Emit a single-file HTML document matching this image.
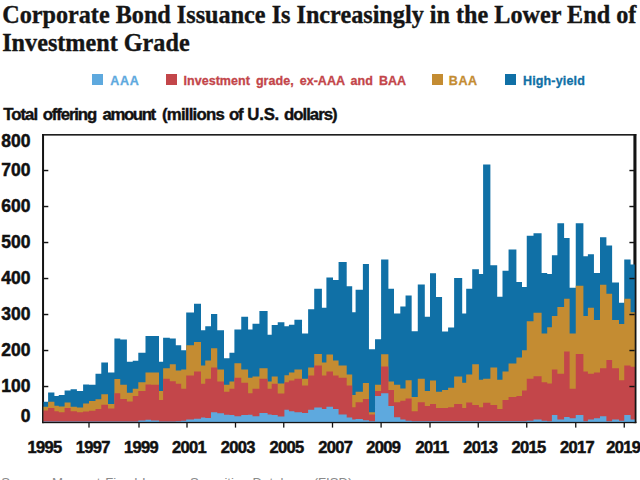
<!DOCTYPE html>
<html><head><meta charset="utf-8"><title>Corporate Bond Issuance</title>
<style>
html,body{margin:0;padding:0;background:#fff;}
body{width:640px;height:480px;overflow:hidden;position:relative;font-family:"Liberation Sans",sans-serif;color:#111;}
.abs{position:absolute;white-space:nowrap;}
.title{-webkit-text-stroke:0.35px #151515;font-family:"Liberation Serif",serif;font-weight:bold;color:#151515;font-size:24.2px;line-height:27px;left:2.2px;top:0.7px;transform-origin:0 0;}
.sub{-webkit-text-stroke:0.4px #111;font-weight:bold;font-size:16.8px;line-height:20px;left:3.4px;top:105.1px;transform-origin:0 0;}
.yl{-webkit-text-stroke:0.5px #111;font-weight:bold;font-size:17.5px;line-height:17.5px;left:0;width:30.4px;text-align:right;letter-spacing:0px;}
.xl{-webkit-text-stroke:0.5px #111;font-weight:bold;font-size:16.5px;line-height:16.5px;letter-spacing:-0.65px;transform:translateX(-50%);}
.lg{-webkit-text-stroke:0.3px currentColor;font-weight:bold;font-size:12.5px;line-height:14px;letter-spacing:0.04px;word-spacing:2.5px;}
.sq{position:absolute;width:11px;height:10.7px;top:74.3px;}
.foot{font-size:13.1px;color:#8a8a8a;left:1.2px;top:475px;line-height:15px;}
</style></head><body>
<div class="abs title" id="t1">Corporate Bond Issuance Is Increasingly in the Lower End of</div>
<div class="abs title" id="t2" style="top:28.5px">Investment Grade</div>
<div class="sq" style="left:92.3px;background:#5ea9de"></div>
<div class="abs lg" id="lg_aaa" style="left:110.2px;top:73.6px;letter-spacing:0.75px;color:#5ea9de">AAA</div>
<div class="sq" style="left:166px;background:#c3464a"></div>
<div class="abs lg" id="lg_ig" style="left:183.5px;top:73.6px;letter-spacing:0.04px;color:#c3464a">Investment grade, ex-AAA and BAA</div>
<div class="sq" style="left:432px;background:#c48c32"></div>
<div class="abs lg" id="lg_baa" style="left:448.8px;top:73.6px;letter-spacing:0.6px;color:#c48c32">BAA</div>
<div class="sq" style="left:505.4px;background:#1070a6"></div>
<div class="abs lg" id="lg_hy" style="left:523px;top:73.6px;letter-spacing:0.15px;color:#1070a6">High-yield</div>
<div class="abs sub" style="left:3.30px;letter-spacing:-1.019px">Total</div>
<div class="abs sub" style="left:42.70px;letter-spacing:-1.137px">offering</div>
<div class="abs sub" style="left:102.60px;letter-spacing:-1.421px">amount</div>
<div class="abs sub" style="left:162.00px;letter-spacing:-0.779px">(millions</div>
<div class="abs sub" style="left:228.95px;letter-spacing:-1.072px">of</div>
<div class="abs sub" style="left:247.30px;letter-spacing:-0.221px">U.S.</div>
<div class="abs sub" style="left:283.90px;letter-spacing:-0.971px">dollars)</div>
<svg width="640" height="480" viewBox="0 0 640 480" style="position:absolute;left:0;top:0">
<g fill="#141414">
<rect x="42.2" y="134.05" width="1.85" height="289.05"/>
<rect x="42.2" y="134.05" width="594.05" height="1.55"/>
<rect x="633.4" y="134.05" width="2.85" height="289.05"/>
<rect x="42.2" y="421.7" width="594.05" height="1.4"/>
</g>
<g>
<path d="M43.20,401.78 L48.10,401.78 L48.10,392.42 L54.40,392.42 L54.40,396.02 L58.75,396.02 L58.75,394.94 L64.60,394.94 L64.60,390.62 L70.60,390.62 L70.60,389.18 L76.90,389.18 L76.90,390.98 L83.10,390.98 L83.10,384.50 L89.00,384.50 L89.00,384.86 L95.50,384.86 L95.50,373.70 L101.30,373.70 L101.30,362.54 L108.00,362.54 L108.00,372.62 L114.40,372.62 L114.40,338.42 L120.25,338.42 L120.25,339.50 L126.90,339.50 L126.90,361.82 L132.75,361.82 L132.75,360.74 L138.30,360.74 L138.30,352.82 L145.50,352.82 L145.50,335.90 L151.00,335.90 L151.00,335.90 L159.00,335.90 L159.00,361.82 L163.10,361.82 L163.10,337.70 L169.80,337.70 L169.80,338.42 L175.80,338.42 L175.80,345.26 L181.20,345.26 L181.20,350.30 L186.20,350.30 L186.20,312.50 L194.00,312.50 L194.00,303.86 L201.00,303.86 L201.00,330.14 L205.25,330.14 L205.25,326.18 L211.00,326.18 L211.00,313.94 L217.25,313.94 L217.25,330.14 L224.00,330.14 L224.00,358.22 L229.44,358.22 L229.44,352.82 L234.40,352.82 L234.40,329.42 L241.25,329.42 L241.25,316.82 L248.10,316.82 L248.10,329.42 L252.50,329.42 L252.50,323.66 L259.40,323.66 L259.40,311.06 L267.60,311.06 L267.60,334.82 L271.69,334.82 L271.69,325.10 L277.72,325.10 L277.72,322.22 L284.40,322.22 L284.40,326.18 L288.90,326.18 L288.90,324.74 L294.40,324.74 L294.40,319.70 L302.03,319.70 L302.03,333.38 L308.12,333.38 L308.12,309.26 L314.22,309.26 L314.22,288.74 L321.90,288.74 L321.90,307.82 L326.41,307.82 L326.41,277.58 L333.00,277.58 L333.00,280.10 L338.57,280.10 L338.57,262.10 L346.70,262.10 L346.70,286.22 L352.20,286.22 L352.20,312.14 L355.60,312.14 L355.60,289.82 L362.88,289.82 L362.88,263.90 L368.95,263.90 L368.95,349.22 L375.03,349.22 L375.03,339.14 L381.10,339.14 L381.10,259.58 L388.40,259.58 L388.40,288.74 L394.00,288.74 L394.00,313.58 L400.30,313.58 L400.30,306.38 L405.55,306.38 L405.55,295.58 L411.66,295.58 L411.66,331.22 L417.77,331.22 L417.77,284.42 L424.80,284.42 L424.80,316.82 L430.00,316.82 L430.00,273.26 L436.03,273.26 L436.03,297.02 L442.06,297.02 L442.06,331.58 L448.09,331.58 L448.09,327.62 L454.12,327.62 L454.12,277.94 L462.20,277.94 L462.20,313.58 L466.19,313.58 L466.19,288.74 L472.22,288.74 L472.22,269.30 L478.90,269.30 L478.90,273.98 L483.10,273.98 L483.10,164.54 L490.38,164.54 L490.38,265.34 L497.20,265.34 L497.20,296.66 L502.50,296.66 L502.50,270.74 L508.56,270.74 L508.56,249.50 L516.40,249.50 L516.40,281.90 L522.00,281.90 L522.00,286.94 L526.75,286.94 L526.75,235.82 L533.50,235.82 L533.50,233.30 L541.60,233.30 L541.60,272.90 L547.20,272.90 L547.20,273.98 L551.90,273.98 L551.90,255.26 L557.38,255.26 L557.38,223.22 L564.10,223.22 L564.10,237.98 L569.62,237.98 L569.62,287.66 L575.75,287.66 L575.75,223.22 L583.40,223.22 L583.40,256.34 L587.88,256.34 L587.88,254.18 L593.94,254.18 L593.94,272.90 L600.00,272.90 L600.00,237.26 L606.40,237.26 L606.40,245.54 L612.12,245.54 L612.12,282.62 L619.00,282.62 L619.00,302.78 L624.25,302.78 L624.25,259.58 L630.60,259.58 L630.60,264.62 L635.00,264.62 L635.00,422.30 L630.60,422.30 L630.60,422.30 L624.25,422.30 L624.25,422.30 L619.00,422.30 L619.00,422.30 L612.12,422.30 L612.12,422.30 L606.40,422.30 L606.40,422.30 L600.00,422.30 L600.00,422.30 L593.94,422.30 L593.94,422.30 L587.88,422.30 L587.88,422.30 L583.40,422.30 L583.40,422.30 L575.75,422.30 L575.75,422.30 L569.62,422.30 L569.62,422.30 L564.10,422.30 L564.10,422.30 L557.38,422.30 L557.38,422.30 L551.90,422.30 L551.90,422.30 L547.20,422.30 L547.20,422.30 L541.60,422.30 L541.60,422.30 L533.50,422.30 L533.50,422.30 L526.75,422.30 L526.75,422.30 L522.00,422.30 L522.00,422.30 L516.40,422.30 L516.40,422.30 L508.56,422.30 L508.56,422.30 L502.50,422.30 L502.50,422.30 L497.20,422.30 L497.20,422.30 L490.38,422.30 L490.38,422.30 L483.10,422.30 L483.10,422.30 L478.90,422.30 L478.90,422.30 L472.22,422.30 L472.22,422.30 L466.19,422.30 L466.19,422.30 L462.20,422.30 L462.20,422.30 L454.12,422.30 L454.12,422.30 L448.09,422.30 L448.09,422.30 L442.06,422.30 L442.06,422.30 L436.03,422.30 L436.03,422.30 L430.00,422.30 L430.00,422.30 L424.80,422.30 L424.80,422.30 L417.77,422.30 L417.77,422.30 L411.66,422.30 L411.66,422.30 L405.55,422.30 L405.55,422.30 L400.30,422.30 L400.30,422.30 L394.00,422.30 L394.00,422.30 L388.40,422.30 L388.40,422.30 L381.10,422.30 L381.10,422.30 L375.03,422.30 L375.03,422.30 L368.95,422.30 L368.95,422.30 L362.88,422.30 L362.88,422.30 L355.60,422.30 L355.60,422.30 L352.20,422.30 L352.20,422.30 L346.70,422.30 L346.70,422.30 L338.57,422.30 L338.57,422.30 L333.00,422.30 L333.00,422.30 L326.41,422.30 L326.41,422.30 L321.90,422.30 L321.90,422.30 L314.22,422.30 L314.22,422.30 L308.12,422.30 L308.12,422.30 L302.03,422.30 L302.03,422.30 L294.40,422.30 L294.40,422.30 L288.90,422.30 L288.90,422.30 L284.40,422.30 L284.40,422.30 L277.72,422.30 L277.72,422.30 L271.69,422.30 L271.69,422.30 L267.60,422.30 L267.60,422.30 L259.40,422.30 L259.40,422.30 L252.50,422.30 L252.50,422.30 L248.10,422.30 L248.10,422.30 L241.25,422.30 L241.25,422.30 L234.40,422.30 L234.40,422.30 L229.44,422.30 L229.44,422.30 L224.00,422.30 L224.00,422.30 L217.25,422.30 L217.25,422.30 L211.00,422.30 L211.00,422.30 L205.25,422.30 L205.25,422.30 L201.00,422.30 L201.00,422.30 L194.00,422.30 L194.00,422.30 L186.20,422.30 L186.20,422.30 L181.20,422.30 L181.20,422.30 L175.80,422.30 L175.80,422.30 L169.80,422.30 L169.80,422.30 L163.10,422.30 L163.10,422.30 L159.00,422.30 L159.00,422.30 L151.00,422.30 L151.00,422.30 L145.50,422.30 L145.50,422.30 L138.30,422.30 L138.30,422.30 L132.75,422.30 L132.75,422.30 L126.90,422.30 L126.90,422.30 L120.25,422.30 L120.25,422.30 L114.40,422.30 L114.40,422.30 L108.00,422.30 L108.00,422.30 L101.30,422.30 L101.30,422.30 L95.50,422.30 L95.50,422.30 L89.00,422.30 L89.00,422.30 L83.10,422.30 L83.10,422.30 L76.90,422.30 L76.90,422.30 L70.60,422.30 L70.60,422.30 L64.60,422.30 L64.60,422.30 L58.75,422.30 L58.75,422.30 L54.40,422.30 L54.40,422.30 L48.10,422.30 L48.10,422.30 L43.20,422.30Z" fill="#1070a6"/>
<path d="M43.20,406.82 L48.10,406.82 L48.10,401.78 L54.40,401.78 L54.40,405.74 L58.75,405.74 L58.75,406.46 L64.60,406.46 L64.60,402.50 L70.60,402.50 L70.60,406.82 L76.90,406.82 L76.90,407.54 L83.10,407.54 L83.10,403.58 L89.00,403.58 L89.00,401.06 L95.50,401.06 L95.50,399.26 L101.30,399.26 L101.30,394.22 L108.00,394.22 L108.00,403.94 L114.40,403.94 L114.40,379.10 L120.25,379.10 L120.25,384.86 L126.90,384.86 L126.90,392.78 L132.75,392.78 L132.75,388.82 L138.30,388.82 L138.30,382.34 L145.50,382.34 L145.50,372.62 L151.00,372.62 L151.00,372.62 L159.00,372.62 L159.00,390.98 L163.10,390.98 L163.10,368.30 L169.80,368.30 L169.80,364.34 L175.80,364.34 L175.80,370.46 L181.20,370.46 L181.20,369.38 L186.20,369.38 L186.20,345.26 L194.00,345.26 L194.00,342.02 L201.00,342.02 L201.00,365.42 L205.25,365.42 L205.25,360.38 L211.00,360.38 L211.00,348.14 L217.25,348.14 L217.25,369.38 L224.00,369.38 L224.00,384.86 L229.44,384.86 L229.44,381.62 L234.40,381.62 L234.40,363.26 L241.25,363.26 L241.25,369.38 L248.10,369.38 L248.10,377.66 L252.50,377.66 L252.50,376.58 L259.40,376.58 L259.40,368.30 L267.60,368.30 L267.60,381.62 L271.69,381.62 L271.69,376.58 L277.72,376.58 L277.72,383.42 L284.40,383.42 L284.40,375.14 L288.90,375.14 L288.90,372.62 L294.40,372.62 L294.40,369.38 L302.03,369.38 L302.03,378.74 L308.12,378.74 L308.12,367.58 L314.22,367.58 L314.22,353.90 L321.90,353.90 L321.90,362.54 L326.41,362.54 L326.41,354.62 L333.00,354.62 L333.00,360.38 L338.57,360.38 L338.57,365.42 L346.70,365.42 L346.70,374.42 L352.20,374.42 L352.20,394.94 L355.60,394.94 L355.60,391.70 L362.88,391.70 L362.88,383.06 L368.95,383.06 L368.95,412.22 L375.03,412.22 L375.03,384.86 L381.10,384.86 L381.10,354.26 L388.40,354.26 L388.40,381.62 L394.00,381.62 L394.00,384.86 L400.30,384.86 L400.30,388.46 L405.55,388.46 L405.55,380.18 L411.66,380.18 L411.66,397.10 L417.77,397.10 L417.77,378.74 L424.80,378.74 L424.80,390.98 L430.00,390.98 L430.00,380.54 L436.03,380.54 L436.03,391.70 L442.06,391.70 L442.06,389.90 L448.09,389.90 L448.09,387.74 L454.12,387.74 L454.12,376.58 L462.20,376.58 L462.20,382.70 L466.19,382.70 L466.19,374.42 L472.22,374.42 L472.22,364.34 L478.90,364.34 L478.90,379.82 L483.10,379.82 L483.10,378.74 L490.38,378.74 L490.38,367.58 L497.20,367.58 L497.20,379.82 L502.50,379.82 L502.50,371.54 L508.56,371.54 L508.56,363.62 L516.40,363.62 L516.40,357.50 L522.00,357.50 L522.00,350.30 L526.75,350.30 L526.75,321.14 L533.50,321.14 L533.50,312.86 L541.60,312.86 L541.60,333.38 L547.20,333.38 L547.20,327.26 L551.90,327.26 L551.90,316.10 L557.38,316.10 L557.38,307.10 L564.10,307.10 L564.10,298.82 L569.62,298.82 L569.62,333.38 L575.75,333.38 L575.75,285.86 L583.40,285.86 L583.40,316.10 L587.88,316.10 L587.88,307.82 L593.94,307.82 L593.94,320.06 L600.00,320.06 L600.00,284.78 L606.40,284.78 L606.40,293.78 L612.12,293.78 L612.12,320.06 L619.00,320.06 L619.00,324.02 L624.25,324.02 L624.25,298.82 L630.60,298.82 L630.60,312.14 L635.00,312.14 L635.00,422.30 L630.60,422.30 L630.60,422.30 L624.25,422.30 L624.25,422.30 L619.00,422.30 L619.00,422.30 L612.12,422.30 L612.12,422.30 L606.40,422.30 L606.40,422.30 L600.00,422.30 L600.00,422.30 L593.94,422.30 L593.94,422.30 L587.88,422.30 L587.88,422.30 L583.40,422.30 L583.40,422.30 L575.75,422.30 L575.75,422.30 L569.62,422.30 L569.62,422.30 L564.10,422.30 L564.10,422.30 L557.38,422.30 L557.38,422.30 L551.90,422.30 L551.90,422.30 L547.20,422.30 L547.20,422.30 L541.60,422.30 L541.60,422.30 L533.50,422.30 L533.50,422.30 L526.75,422.30 L526.75,422.30 L522.00,422.30 L522.00,422.30 L516.40,422.30 L516.40,422.30 L508.56,422.30 L508.56,422.30 L502.50,422.30 L502.50,422.30 L497.20,422.30 L497.20,422.30 L490.38,422.30 L490.38,422.30 L483.10,422.30 L483.10,422.30 L478.90,422.30 L478.90,422.30 L472.22,422.30 L472.22,422.30 L466.19,422.30 L466.19,422.30 L462.20,422.30 L462.20,422.30 L454.12,422.30 L454.12,422.30 L448.09,422.30 L448.09,422.30 L442.06,422.30 L442.06,422.30 L436.03,422.30 L436.03,422.30 L430.00,422.30 L430.00,422.30 L424.80,422.30 L424.80,422.30 L417.77,422.30 L417.77,422.30 L411.66,422.30 L411.66,422.30 L405.55,422.30 L405.55,422.30 L400.30,422.30 L400.30,422.30 L394.00,422.30 L394.00,422.30 L388.40,422.30 L388.40,422.30 L381.10,422.30 L381.10,422.30 L375.03,422.30 L375.03,422.30 L368.95,422.30 L368.95,422.30 L362.88,422.30 L362.88,422.30 L355.60,422.30 L355.60,422.30 L352.20,422.30 L352.20,422.30 L346.70,422.30 L346.70,422.30 L338.57,422.30 L338.57,422.30 L333.00,422.30 L333.00,422.30 L326.41,422.30 L326.41,422.30 L321.90,422.30 L321.90,422.30 L314.22,422.30 L314.22,422.30 L308.12,422.30 L308.12,422.30 L302.03,422.30 L302.03,422.30 L294.40,422.30 L294.40,422.30 L288.90,422.30 L288.90,422.30 L284.40,422.30 L284.40,422.30 L277.72,422.30 L277.72,422.30 L271.69,422.30 L271.69,422.30 L267.60,422.30 L267.60,422.30 L259.40,422.30 L259.40,422.30 L252.50,422.30 L252.50,422.30 L248.10,422.30 L248.10,422.30 L241.25,422.30 L241.25,422.30 L234.40,422.30 L234.40,422.30 L229.44,422.30 L229.44,422.30 L224.00,422.30 L224.00,422.30 L217.25,422.30 L217.25,422.30 L211.00,422.30 L211.00,422.30 L205.25,422.30 L205.25,422.30 L201.00,422.30 L201.00,422.30 L194.00,422.30 L194.00,422.30 L186.20,422.30 L186.20,422.30 L181.20,422.30 L181.20,422.30 L175.80,422.30 L175.80,422.30 L169.80,422.30 L169.80,422.30 L163.10,422.30 L163.10,422.30 L159.00,422.30 L159.00,422.30 L151.00,422.30 L151.00,422.30 L145.50,422.30 L145.50,422.30 L138.30,422.30 L138.30,422.30 L132.75,422.30 L132.75,422.30 L126.90,422.30 L126.90,422.30 L120.25,422.30 L120.25,422.30 L114.40,422.30 L114.40,422.30 L108.00,422.30 L108.00,422.30 L101.30,422.30 L101.30,422.30 L95.50,422.30 L95.50,422.30 L89.00,422.30 L89.00,422.30 L83.10,422.30 L83.10,422.30 L76.90,422.30 L76.90,422.30 L70.60,422.30 L70.60,422.30 L64.60,422.30 L64.60,422.30 L58.75,422.30 L58.75,422.30 L54.40,422.30 L54.40,422.30 L48.10,422.30 L48.10,422.30 L43.20,422.30Z" fill="#c48c32"/>
<path d="M43.20,410.42 L48.10,410.42 L48.10,407.90 L54.40,407.90 L54.40,411.14 L58.75,411.14 L58.75,412.22 L64.60,412.22 L64.60,407.90 L70.60,407.90 L70.60,411.14 L76.90,411.14 L76.90,412.22 L83.10,412.22 L83.10,411.50 L89.00,411.50 L89.00,410.78 L95.50,410.78 L95.50,408.98 L101.30,408.98 L101.30,404.66 L108.00,404.66 L108.00,408.62 L114.40,408.62 L114.40,393.14 L120.25,393.14 L120.25,398.90 L126.90,398.90 L126.90,401.42 L132.75,401.42 L132.75,396.02 L138.30,396.02 L138.30,390.98 L145.50,390.98 L145.50,384.50 L151.00,384.50 L151.00,384.86 L159.00,384.86 L159.00,399.98 L163.10,399.98 L163.10,378.74 L169.80,378.74 L169.80,381.26 L175.80,381.26 L175.80,383.78 L181.20,383.78 L181.20,388.82 L186.20,388.82 L186.20,375.50 L194.00,375.50 L194.00,371.54 L201.00,371.54 L201.00,383.78 L205.25,383.78 L205.25,378.74 L211.00,378.74 L211.00,367.58 L217.25,367.58 L217.25,381.62 L224.00,381.62 L224.00,391.70 L229.44,391.70 L229.44,388.82 L234.40,388.82 L234.40,377.66 L241.25,377.66 L241.25,382.70 L248.10,382.70 L248.10,393.14 L252.50,393.14 L252.50,388.82 L259.40,388.82 L259.40,378.74 L267.60,378.74 L267.60,388.82 L271.69,388.82 L271.69,383.78 L277.72,383.78 L277.72,393.50 L284.40,393.50 L284.40,382.34 L288.90,382.34 L288.90,380.54 L294.40,380.54 L294.40,378.74 L302.03,378.74 L302.03,385.58 L308.12,385.58 L308.12,375.50 L314.22,375.50 L314.22,365.42 L321.90,365.42 L321.90,375.50 L326.41,375.50 L326.41,371.54 L333.00,371.54 L333.00,375.50 L338.57,375.50 L338.57,377.66 L346.70,377.66 L346.70,385.58 L352.20,385.58 L352.20,407.18 L355.60,407.18 L355.60,402.14 L362.88,402.14 L362.88,398.90 L368.95,398.90 L368.95,414.38 L375.03,414.38 L375.03,390.98 L381.10,390.98 L381.10,366.50 L388.40,366.50 L388.40,389.90 L394.00,389.90 L394.00,402.14 L400.30,402.14 L400.30,400.70 L405.55,400.70 L405.55,398.54 L411.66,398.54 L411.66,411.14 L417.77,411.14 L417.77,402.14 L424.80,402.14 L424.80,406.10 L430.00,406.10 L430.00,403.94 L436.03,403.94 L436.03,407.90 L442.06,407.90 L442.06,407.90 L448.09,407.90 L448.09,407.18 L454.12,407.18 L454.12,403.94 L462.20,403.94 L462.20,407.90 L466.19,407.90 L466.19,402.50 L472.22,402.50 L472.22,405.02 L478.90,405.02 L478.90,407.18 L483.10,407.18 L483.10,402.86 L490.38,402.86 L490.38,405.02 L497.20,405.02 L497.20,408.98 L502.50,408.98 L502.50,399.98 L508.56,399.98 L508.56,397.10 L516.40,397.10 L516.40,396.02 L522.00,396.02 L522.00,390.62 L526.75,390.62 L526.75,378.74 L533.50,378.74 L533.50,376.22 L541.60,376.22 L541.60,382.34 L547.20,382.34 L547.20,383.42 L551.90,383.42 L551.90,369.38 L557.38,369.38 L557.38,373.70 L564.10,373.70 L564.10,351.38 L569.62,351.38 L569.62,388.82 L575.75,388.82 L575.75,353.90 L583.40,353.90 L583.40,371.54 L587.88,371.54 L587.88,373.70 L593.94,373.70 L593.94,372.62 L600.00,372.62 L600.00,368.30 L606.40,368.30 L606.40,360.02 L612.12,360.02 L612.12,368.30 L619.00,368.30 L619.00,380.18 L624.25,380.18 L624.25,365.42 L630.60,365.42 L630.60,366.86 L635.00,366.86 L635.00,422.30 L630.60,422.30 L630.60,422.30 L624.25,422.30 L624.25,422.30 L619.00,422.30 L619.00,422.30 L612.12,422.30 L612.12,422.30 L606.40,422.30 L606.40,422.30 L600.00,422.30 L600.00,422.30 L593.94,422.30 L593.94,422.30 L587.88,422.30 L587.88,422.30 L583.40,422.30 L583.40,422.30 L575.75,422.30 L575.75,422.30 L569.62,422.30 L569.62,422.30 L564.10,422.30 L564.10,422.30 L557.38,422.30 L557.38,422.30 L551.90,422.30 L551.90,422.30 L547.20,422.30 L547.20,422.30 L541.60,422.30 L541.60,422.30 L533.50,422.30 L533.50,422.30 L526.75,422.30 L526.75,422.30 L522.00,422.30 L522.00,422.30 L516.40,422.30 L516.40,422.30 L508.56,422.30 L508.56,422.30 L502.50,422.30 L502.50,422.30 L497.20,422.30 L497.20,422.30 L490.38,422.30 L490.38,422.30 L483.10,422.30 L483.10,422.30 L478.90,422.30 L478.90,422.30 L472.22,422.30 L472.22,422.30 L466.19,422.30 L466.19,422.30 L462.20,422.30 L462.20,422.30 L454.12,422.30 L454.12,422.30 L448.09,422.30 L448.09,422.30 L442.06,422.30 L442.06,422.30 L436.03,422.30 L436.03,422.30 L430.00,422.30 L430.00,422.30 L424.80,422.30 L424.80,422.30 L417.77,422.30 L417.77,422.30 L411.66,422.30 L411.66,422.30 L405.55,422.30 L405.55,422.30 L400.30,422.30 L400.30,422.30 L394.00,422.30 L394.00,422.30 L388.40,422.30 L388.40,422.30 L381.10,422.30 L381.10,422.30 L375.03,422.30 L375.03,422.30 L368.95,422.30 L368.95,422.30 L362.88,422.30 L362.88,422.30 L355.60,422.30 L355.60,422.30 L352.20,422.30 L352.20,422.30 L346.70,422.30 L346.70,422.30 L338.57,422.30 L338.57,422.30 L333.00,422.30 L333.00,422.30 L326.41,422.30 L326.41,422.30 L321.90,422.30 L321.90,422.30 L314.22,422.30 L314.22,422.30 L308.12,422.30 L308.12,422.30 L302.03,422.30 L302.03,422.30 L294.40,422.30 L294.40,422.30 L288.90,422.30 L288.90,422.30 L284.40,422.30 L284.40,422.30 L277.72,422.30 L277.72,422.30 L271.69,422.30 L271.69,422.30 L267.60,422.30 L267.60,422.30 L259.40,422.30 L259.40,422.30 L252.50,422.30 L252.50,422.30 L248.10,422.30 L248.10,422.30 L241.25,422.30 L241.25,422.30 L234.40,422.30 L234.40,422.30 L229.44,422.30 L229.44,422.30 L224.00,422.30 L224.00,422.30 L217.25,422.30 L217.25,422.30 L211.00,422.30 L211.00,422.30 L205.25,422.30 L205.25,422.30 L201.00,422.30 L201.00,422.30 L194.00,422.30 L194.00,422.30 L186.20,422.30 L186.20,422.30 L181.20,422.30 L181.20,422.30 L175.80,422.30 L175.80,422.30 L169.80,422.30 L169.80,422.30 L163.10,422.30 L163.10,422.30 L159.00,422.30 L159.00,422.30 L151.00,422.30 L151.00,422.30 L145.50,422.30 L145.50,422.30 L138.30,422.30 L138.30,422.30 L132.75,422.30 L132.75,422.30 L126.90,422.30 L126.90,422.30 L120.25,422.30 L120.25,422.30 L114.40,422.30 L114.40,422.30 L108.00,422.30 L108.00,422.30 L101.30,422.30 L101.30,422.30 L95.50,422.30 L95.50,422.30 L89.00,422.30 L89.00,422.30 L83.10,422.30 L83.10,422.30 L76.90,422.30 L76.90,422.30 L70.60,422.30 L70.60,422.30 L64.60,422.30 L64.60,422.30 L58.75,422.30 L58.75,422.30 L54.40,422.30 L54.40,422.30 L48.10,422.30 L48.10,422.30 L43.20,422.30Z" fill="#c3464a"/>
<path d="M43.20,421.58 L48.10,421.58 L48.10,421.58 L54.40,421.58 L54.40,421.58 L58.75,421.58 L58.75,421.58 L64.60,421.58 L64.60,421.58 L70.60,421.58 L70.60,421.58 L76.90,421.58 L76.90,421.58 L83.10,421.58 L83.10,421.58 L89.00,421.58 L89.00,421.58 L95.50,421.58 L95.50,421.58 L101.30,421.58 L101.30,421.58 L108.00,421.58 L108.00,421.58 L114.40,421.58 L114.40,421.58 L120.25,421.58 L120.25,421.58 L126.90,421.58 L126.90,421.58 L132.75,421.58 L132.75,421.58 L138.30,421.58 L138.30,420.50 L145.50,420.50 L145.50,419.78 L151.00,419.78 L151.00,420.50 L159.00,420.50 L159.00,421.58 L163.10,421.58 L163.10,421.58 L169.80,421.58 L169.80,421.58 L175.80,421.58 L175.80,421.22 L181.20,421.22 L181.20,420.86 L186.20,420.86 L186.20,419.42 L194.00,419.42 L194.00,418.70 L201.00,418.70 L201.00,417.62 L205.25,417.62 L205.25,417.98 L211.00,417.98 L211.00,412.22 L217.25,412.22 L217.25,413.30 L224.00,413.30 L224.00,414.74 L229.44,414.74 L229.44,415.10 L234.40,415.10 L234.40,416.18 L241.25,416.18 L241.25,415.10 L248.10,415.10 L248.10,414.74 L252.50,414.74 L252.50,416.18 L259.40,416.18 L259.40,412.94 L267.60,412.94 L267.60,414.38 L271.69,414.38 L271.69,415.10 L277.72,415.10 L277.72,416.54 L284.40,416.54 L284.40,409.70 L288.90,409.70 L288.90,411.14 L294.40,411.14 L294.40,412.22 L302.03,412.22 L302.03,412.94 L308.12,412.94 L308.12,409.70 L314.22,409.70 L314.22,407.54 L321.90,407.54 L321.90,408.98 L326.41,408.98 L326.41,406.82 L333.00,406.82 L333.00,408.98 L338.57,408.98 L338.57,414.38 L346.70,414.38 L346.70,417.62 L352.20,417.62 L352.20,419.42 L355.60,419.42 L355.60,419.06 L362.88,419.06 L362.88,420.14 L368.95,420.14 L368.95,421.22 L375.03,421.22 L375.03,396.02 L381.10,396.02 L381.10,393.14 L388.40,393.14 L388.40,406.10 L394.00,406.10 L394.00,417.26 L400.30,417.26 L400.30,419.42 L405.55,419.42 L405.55,420.86 L411.66,420.86 L411.66,421.22 L417.77,421.22 L417.77,421.22 L424.80,421.22 L424.80,421.22 L430.00,421.22 L430.00,421.22 L436.03,421.22 L436.03,421.22 L442.06,421.22 L442.06,421.22 L448.09,421.22 L448.09,421.22 L454.12,421.22 L454.12,421.22 L462.20,421.22 L462.20,421.22 L466.19,421.22 L466.19,421.22 L472.22,421.22 L472.22,421.22 L478.90,421.22 L478.90,421.22 L483.10,421.22 L483.10,421.22 L490.38,421.22 L490.38,421.22 L497.20,421.22 L497.20,421.22 L502.50,421.22 L502.50,421.22 L508.56,421.22 L508.56,421.22 L516.40,421.22 L516.40,421.22 L522.00,421.22 L522.00,421.22 L526.75,421.22 L526.75,420.86 L533.50,420.86 L533.50,419.42 L541.60,419.42 L541.60,420.86 L547.20,420.86 L547.20,421.22 L551.90,421.22 L551.90,415.10 L557.38,415.10 L557.38,419.42 L564.10,419.42 L564.10,416.90 L569.62,416.90 L569.62,418.34 L575.75,418.34 L575.75,415.10 L583.40,415.10 L583.40,421.22 L587.88,421.22 L587.88,419.42 L593.94,419.42 L593.94,418.34 L600.00,418.34 L600.00,416.18 L606.40,416.18 L606.40,421.22 L612.12,421.22 L612.12,419.42 L619.00,419.42 L619.00,420.86 L624.25,420.86 L624.25,415.10 L630.60,415.10 L630.60,419.42 L635.00,419.42 L635.00,422.30 L630.60,422.30 L630.60,422.30 L624.25,422.30 L624.25,422.30 L619.00,422.30 L619.00,422.30 L612.12,422.30 L612.12,422.30 L606.40,422.30 L606.40,422.30 L600.00,422.30 L600.00,422.30 L593.94,422.30 L593.94,422.30 L587.88,422.30 L587.88,422.30 L583.40,422.30 L583.40,422.30 L575.75,422.30 L575.75,422.30 L569.62,422.30 L569.62,422.30 L564.10,422.30 L564.10,422.30 L557.38,422.30 L557.38,422.30 L551.90,422.30 L551.90,422.30 L547.20,422.30 L547.20,422.30 L541.60,422.30 L541.60,422.30 L533.50,422.30 L533.50,422.30 L526.75,422.30 L526.75,422.30 L522.00,422.30 L522.00,422.30 L516.40,422.30 L516.40,422.30 L508.56,422.30 L508.56,422.30 L502.50,422.30 L502.50,422.30 L497.20,422.30 L497.20,422.30 L490.38,422.30 L490.38,422.30 L483.10,422.30 L483.10,422.30 L478.90,422.30 L478.90,422.30 L472.22,422.30 L472.22,422.30 L466.19,422.30 L466.19,422.30 L462.20,422.30 L462.20,422.30 L454.12,422.30 L454.12,422.30 L448.09,422.30 L448.09,422.30 L442.06,422.30 L442.06,422.30 L436.03,422.30 L436.03,422.30 L430.00,422.30 L430.00,422.30 L424.80,422.30 L424.80,422.30 L417.77,422.30 L417.77,422.30 L411.66,422.30 L411.66,422.30 L405.55,422.30 L405.55,422.30 L400.30,422.30 L400.30,422.30 L394.00,422.30 L394.00,422.30 L388.40,422.30 L388.40,422.30 L381.10,422.30 L381.10,422.30 L375.03,422.30 L375.03,422.30 L368.95,422.30 L368.95,422.30 L362.88,422.30 L362.88,422.30 L355.60,422.30 L355.60,422.30 L352.20,422.30 L352.20,422.30 L346.70,422.30 L346.70,422.30 L338.57,422.30 L338.57,422.30 L333.00,422.30 L333.00,422.30 L326.41,422.30 L326.41,422.30 L321.90,422.30 L321.90,422.30 L314.22,422.30 L314.22,422.30 L308.12,422.30 L308.12,422.30 L302.03,422.30 L302.03,422.30 L294.40,422.30 L294.40,422.30 L288.90,422.30 L288.90,422.30 L284.40,422.30 L284.40,422.30 L277.72,422.30 L277.72,422.30 L271.69,422.30 L271.69,422.30 L267.60,422.30 L267.60,422.30 L259.40,422.30 L259.40,422.30 L252.50,422.30 L252.50,422.30 L248.10,422.30 L248.10,422.30 L241.25,422.30 L241.25,422.30 L234.40,422.30 L234.40,422.30 L229.44,422.30 L229.44,422.30 L224.00,422.30 L224.00,422.30 L217.25,422.30 L217.25,422.30 L211.00,422.30 L211.00,422.30 L205.25,422.30 L205.25,422.30 L201.00,422.30 L201.00,422.30 L194.00,422.30 L194.00,422.30 L186.20,422.30 L186.20,422.30 L181.20,422.30 L181.20,422.30 L175.80,422.30 L175.80,422.30 L169.80,422.30 L169.80,422.30 L163.10,422.30 L163.10,422.30 L159.00,422.30 L159.00,422.30 L151.00,422.30 L151.00,422.30 L145.50,422.30 L145.50,422.30 L138.30,422.30 L138.30,422.30 L132.75,422.30 L132.75,422.30 L126.90,422.30 L126.90,422.30 L120.25,422.30 L120.25,422.30 L114.40,422.30 L114.40,422.30 L108.00,422.30 L108.00,422.30 L101.30,422.30 L101.30,422.30 L95.50,422.30 L95.50,422.30 L89.00,422.30 L89.00,422.30 L83.10,422.30 L83.10,422.30 L76.90,422.30 L76.90,422.30 L70.60,422.30 L70.60,422.30 L64.60,422.30 L64.60,422.30 L58.75,422.30 L58.75,422.30 L54.40,422.30 L54.40,422.30 L48.10,422.30 L48.10,422.30 L43.20,422.30Z" fill="#5ea9de"/>
</g>
<g fill="#141414">
<rect x="42.2" y="421.9" width="594.05" height="1.2"/>
<rect x="42.2" y="134.05" width="1.2" height="289.05"/>
<rect x="634.7" y="134.05" width="1.6" height="289.05"/>
<rect x="43" y="385.80" width="5.3" height="1.45"/>
<rect x="629.4" y="385.80" width="5.2" height="1.45"/>
<rect x="43" y="349.80" width="5.3" height="1.45"/>
<rect x="629.4" y="349.80" width="5.2" height="1.45"/>
<rect x="43" y="313.80" width="5.3" height="1.45"/>
<rect x="629.4" y="313.80" width="5.2" height="1.45"/>
<rect x="43" y="277.80" width="5.3" height="1.45"/>
<rect x="629.4" y="277.80" width="5.2" height="1.45"/>
<rect x="43" y="241.80" width="5.3" height="1.45"/>
<rect x="629.4" y="241.80" width="5.2" height="1.45"/>
<rect x="43" y="205.80" width="5.3" height="1.45"/>
<rect x="629.4" y="205.80" width="5.2" height="1.45"/>
<rect x="43" y="169.80" width="5.3" height="1.45"/>
<rect x="629.4" y="169.80" width="5.2" height="1.45"/>
<rect x="88.35" y="422" width="1.3" height="5.6"/>
<rect x="138.35" y="422" width="1.3" height="5.6"/>
<rect x="186.35" y="422" width="1.3" height="5.6"/>
<rect x="234.85" y="422" width="1.3" height="5.6"/>
<rect x="283.10" y="422" width="1.3" height="5.6"/>
<rect x="331.85" y="422" width="1.3" height="5.6"/>
<rect x="380.45" y="422" width="1.3" height="5.6"/>
<rect x="429.35" y="422" width="1.3" height="5.6"/>
<rect x="477.60" y="422" width="1.3" height="5.6"/>
<rect x="526.10" y="422" width="1.3" height="5.6"/>
<rect x="575.10" y="422" width="1.3" height="5.6"/>
<rect x="623.60" y="422" width="1.3" height="5.6"/>
</g></svg>
<div class="abs yl" style="top:133.10px">800</div>
<div class="abs yl" style="top:162.10px">700</div>
<div class="abs yl" style="top:198.10px">600</div>
<div class="abs yl" style="top:234.10px">500</div>
<div class="abs yl" style="top:270.10px">400</div>
<div class="abs yl" style="top:306.10px">300</div>
<div class="abs yl" style="top:342.10px">200</div>
<div class="abs yl" style="top:378.10px">100</div>
<div class="abs yl" style="top:408.40px">0</div>
<div class="abs xl" style="left:44.55px;top:439.00px">1995</div>
<div class="abs xl" style="left:92.8px;top:439.00px">1997</div>
<div class="abs xl" style="left:141.05px;top:439.00px">1999</div>
<div class="abs xl" style="left:189.05px;top:439.00px">2001</div>
<div class="abs xl" style="left:237.8px;top:439.00px">2003</div>
<div class="abs xl" style="left:286.55px;top:439.00px">2005</div>
<div class="abs xl" style="left:335.3px;top:439.00px">2007</div>
<div class="abs xl" style="left:383.3px;top:439.00px">2009</div>
<div class="abs xl" style="left:432.05px;top:439.00px">2011</div>
<div class="abs xl" style="left:480.3px;top:439.00px">2013</div>
<div class="abs xl" style="left:528.55px;top:439.00px">2015</div>
<div class="abs xl" style="left:577.05px;top:439.00px">2017</div>
<div class="abs xl" style="left:623.3px;top:439.00px">2019</div>
<div class="abs foot" id="foot" style="letter-spacing:-0.45px">Sources:</div>
<div class="abs foot" id="foot2" style="left:52.1px;font-size:13.2px;word-spacing:1px">Mergent Fixed Income Securities Database (FISD).</div>
</body></html>
